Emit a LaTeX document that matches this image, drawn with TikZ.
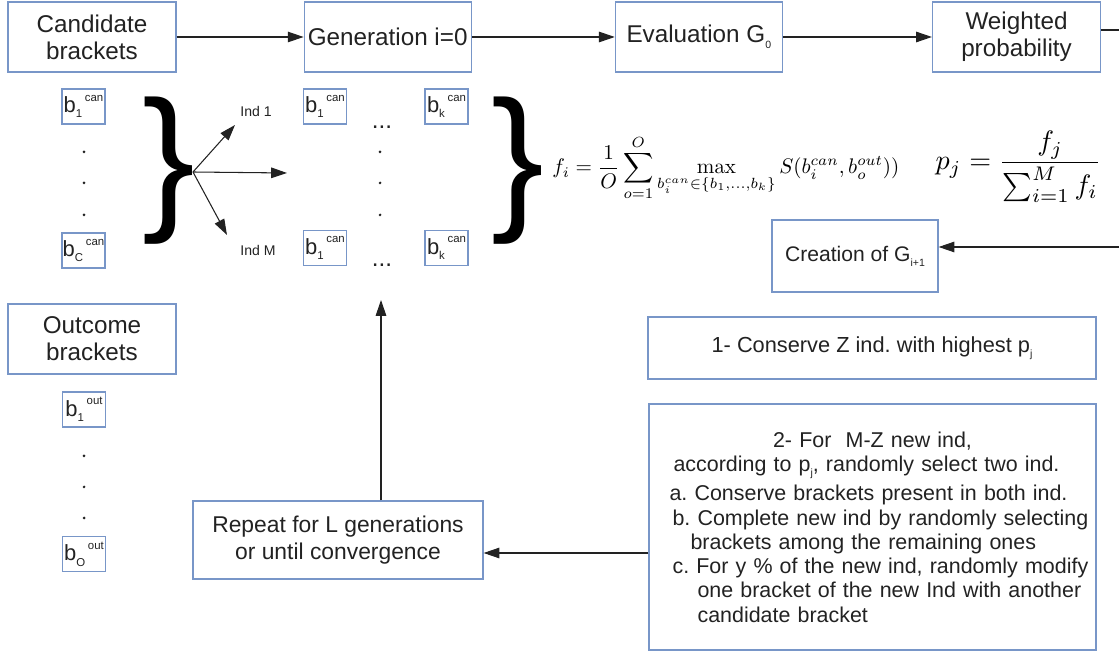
\documentclass[tikz,border=0pt]{standalone}
\usepackage[no-math]{fontspec}
\setmainfont{Liberation Sans}
\usetikzlibrary{arrows.meta, positioning}
\frenchspacing

\definecolor{boxblue}{RGB}{120,150,200}
\definecolor{ink}{RGB}{34,34,34}

\newcommand{\lsub}[1]{\raisebox{-0.45ex}{\fontsize{6}{6}\selectfont #1}}
\newcommand{\brk}[2]{b\raisebox{-0.45ex}{\fontsize{6.5}{6.5}\selectfont #1}\hspace{0.12em}\raisebox{1.0ex}{\fontsize{6.5}{6.5}\selectfont #2}}

\begin{document}
\begin{tikzpicture}[
    x=0.02cm, y=-0.02cm,
    box/.style={draw=boxblue, line width=0.7pt, rectangle, minimum width=3.36cm, minimum height=1.4cm, align=center, text=ink, font=\fontsize{13.8}{15.5}\selectfont, inner sep=2pt},
    bbox/.style={draw=boxblue, line width=0.6pt, minimum width=0.86cm, minimum height=0.7cm, inner sep=0pt, text=ink, font=\fontsize{12.5}{12.5}\selectfont},
    arrow/.style={-{Triangle[length=9pt, width=6pt]}, line width=0.6pt, draw=ink},
    bigbrace/.style={inner sep=0pt, font=\fontsize{90}{90}\selectfont},
    small/.style={text=ink, font=\fontsize{8}{8}\selectfont}
]
\useasboundingbox (0,0) rectangle (1119,651);

% Top row
\node[box] (cand) at (92,37) {Candidate\\brackets};
\node[box, right=2.54cm of cand, minimum width=3.34cm] (gen) {Generation i=0};
\node[box, right=2.86cm of gen, minimum width=3.34cm] (eval) {Evaluation G\lsub{0}};
\node[box, right=2.98cm of eval] (weight) {Weighted\\probability};

% Candidate and outcome brackets
\node[bbox] (can1) at (83.5,106.5) {\brk{1}{can}};
\node[bbox] (canC) at (83.5,250.5) {\brk{C}{can}};
\node[box] (outc) at (92,339) {Outcome\\brackets};
\node[bbox] (out1) at (84,409.5) {\brk{1}{out}};
\node[bbox] (outO) at (84,554) {\brk{O}{out}};
\foreach \y in {152,183,215} \fill[ink] (84,\y) circle[radius=0.03cm];
\foreach \y in {456,487,518} \fill[ink] (84,\y) circle[radius=0.03cm];

% Individuals of generation i=0
\node[bbox] (g11) at (325,106.5) {\brk{1}{can}};
\node[bbox] (g1k) at (446.5,106.5) {\brk{k}{can}};
\node[bbox] (gM1) at (325,248) {\brk{1}{can}};
\node[bbox] (gMk) at (446.5,248) {\brk{k}{can}};
\node[text=ink, font=\fontsize{13.8}{14}\selectfont, inner sep=0pt, anchor=base] (hdots1) at (382,129) {...};
\node[text=ink, font=\fontsize{13.8}{14}\selectfont, inner sep=0pt, anchor=base] (hdotsM) at (382,267) {...};
\foreach \y in {152,183,215} \fill[ink] (380,\y) circle[radius=0.03cm];

% Braces
\node[bigbrace] (leftbrace) at (169,171) {\}};
\node[bigbrace] (rightbrace) at (518,171) {\}};
\coordinate (fork) at (193,172);
\coordinate (ind1tip) at (235,125);
\coordinate (midtip) at (287,173);
\coordinate (indMtip) at (227,235);
\node[small] (ind1) at (256,111) {Ind 1};
\node[small] (indM) at (258,250) {Ind M};

% Formulas
\node[anchor=west, inner sep=0pt, scale=1.2] (fitness) at (552,168) {$\displaystyle f_i = \frac{1}{O}\sum_{o=1}^{O}\max_{b_i^{can}\in\{b_1,\ldots,b_k\}} S(b_i^{can}, b_o^{out}))$};
\node[anchor=west, inner sep=0pt, scale=1.6] (prob) at (935,167) {$\displaystyle p_j = \frac{f_j}{\sum_{i=1}^{M} f_i}$};

% Next generation
\node[box, minimum width=3.32cm, minimum height=1.44cm, font=\fontsize{12}{14}\selectfont] (creation) at (855,256) {Creation of G\lsub{i+1}};
\node[box, minimum width=8.96cm, minimum height=1.24cm, font=\fontsize{12.4}{14}\selectfont] (conserve) at (872,348) {1- Conserve Z ind. with highest p\lsub{j}};
\node[box, minimum width=8.94cm, minimum height=4.92cm, text width=8.8cm, inner xsep=0.07cm, align=left, font=\fontsize{12.2}{13.8}\selectfont] (select) at (872.5,527) {%
{\centering 2- For\ \ M-Z new ind,\hspace*{0.24cm}\\ according to p\lsub{j}, randomly select two ind.\hspace*{0.24cm}\par}
\vspace{3pt}
\noindent\hspace*{0.34cm}\mbox{a. Conserve brackets present in both ind.}\\
\hspace*{0.4cm}\mbox{b. Complete new ind by randomly selecting}\\
\hspace*{0.76cm}\mbox{brackets among the remaining ones}\\
\hspace*{0.4cm}\mbox{c. For y \% of the new ind, randomly modify}\\
\hspace*{0.9cm}\mbox{one bracket of the new Ind with another}\\
\hspace*{0.9cm}\mbox{candidate bracket}};
\node[box, minimum width=5.8cm, minimum height=1.56cm, font=\fontsize{13}{15.3}\selectfont] (repeat) at (338,540) {Repeat for L generations\\or until convergence};

% Arrows
\draw[arrow] (cand) -- (gen);
\draw[arrow] (gen) -- (eval);
\draw[arrow] (eval) -- (weight);
\coordinate (rimtop) at (1119,30);
\coordinate (rimbot) at (1119,247);
\draw[ink, line width=0.6pt] (weight.east |- rimtop) -- (rimtop);
\draw[arrow] (rimbot) -- (creation.east |- rimbot);
\coordinate (back) at (560,553);
\draw[arrow] (select.west |- back) -- (repeat.east |- back);
\coordinate (loop) at (381,300);
\draw[arrow] (repeat.north -| loop) -- (loop);
\draw[arrow] (fork) -- (ind1tip);
\draw[arrow] (fork) -- (midtip);
\draw[arrow] (fork) -- (indMtip);

\end{tikzpicture}
\end{document}
